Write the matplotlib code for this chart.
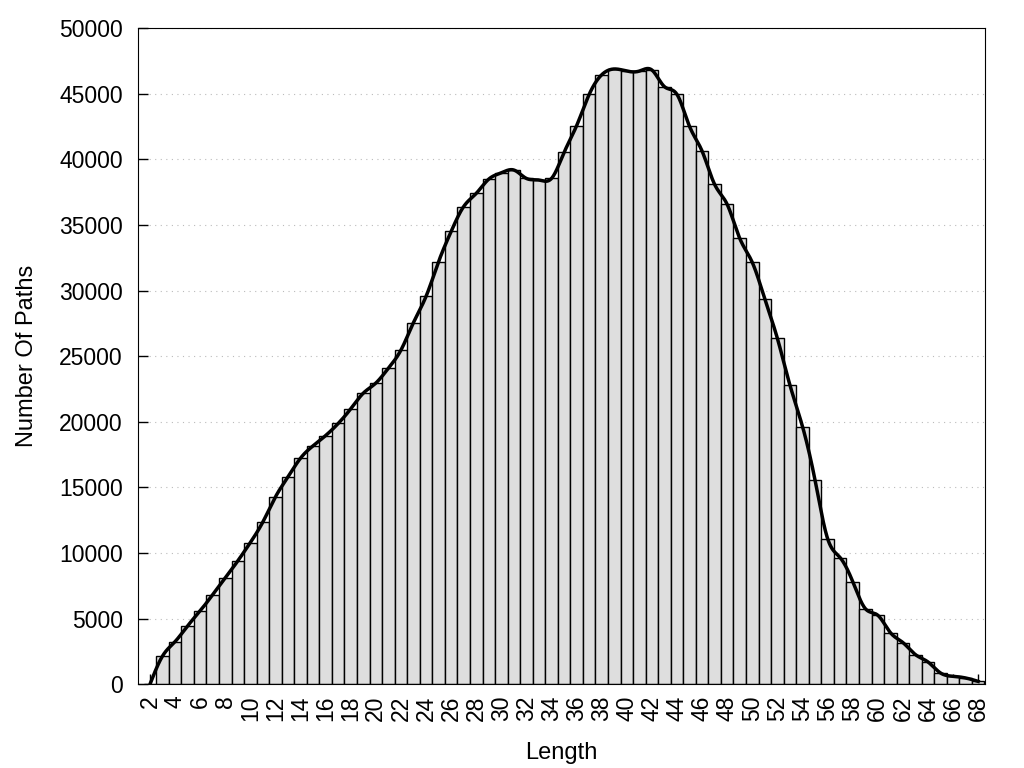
import numpy as np
import matplotlib
matplotlib.use("Agg")
import matplotlib.pyplot as plt

# path length vs. count
lengths = list(range(2, 69))
counts = [0, 2150, 3250, 4450, 5590, 6830, 8100, 9400, 10800, 12370,
          14280, 15800, 17230, 18170, 18950, 19870, 20990, 22180, 22950, 24080,
          25460, 27560, 29550, 32200, 34500, 36400, 37400, 38490, 38970, 39180,
          38540, 38420, 38540, 40520, 42560, 44940, 46440, 46880, 46720, 46720,
          46800, 45530, 44940, 42500, 40620, 38080, 36560, 33970, 32140, 29350,
          26350, 22790, 19640, 15550, 11100, 9650, 7830, 5770, 5260, 3940,
          3180, 2260, 1700, 860, 610, 480, 220]

xtick_vals = list(range(2, 69, 2))
ytick_vals = list(range(0, 50001, 5000))


def natural_spline(x, y, n=2000):
    # natural cubic spline, same idea as gnuplot "smooth csplines"
    x = np.asarray(x, float)
    y = np.asarray(y, float)
    h = np.diff(x)
    m = len(x)
    A = np.zeros((m, m))
    b = np.zeros(m)
    A[0, 0] = A[-1, -1] = 1
    for i in range(1, m - 1):
        A[i, i - 1] = h[i - 1]
        A[i, i] = 2 * (h[i - 1] + h[i])
        A[i, i + 1] = h[i]
        b[i] = 6 * ((y[i + 1] - y[i]) / h[i] - (y[i] - y[i - 1]) / h[i - 1])
    M = np.linalg.solve(A, b)
    xs = np.linspace(x[0], x[-1], n)
    idx = np.clip(np.searchsorted(x, xs) - 1, 0, m - 2)
    x0, x1 = x[idx], x[idx + 1]
    hh = x1 - x0
    t0, t1 = x1 - xs, xs - x0
    ys = (M[idx] * t0 ** 3 + M[idx + 1] * t1 ** 3) / (6 * hh) \
        + (y[idx] / hh - M[idx] * hh / 6) * t0 \
        + (y[idx + 1] / hh - M[idx + 1] * hh / 6) * t1
    return xs, ys


plt.rcParams['font.family'] = ['Liberation Sans', 'DejaVu Sans']

fig = plt.figure(figsize=(10.24, 7.68), dpi=100)
ax = fig.add_axes([0.1348, 0.109, 0.8272, 0.8545])

ax.bar(lengths, counts, width=1.0, color='#dedede', edgecolor='black', linewidth=1.0, zorder=2)
xs, ys = natural_spline(lengths, counts)
ax.plot(xs, ys, color='black', linewidth=2.5, zorder=3)

ax.set_xlim(1.05, 68.55)
ax.set_ylim(0, 50000)
ax.set_xticks(xtick_vals)
ax.set_xticklabels([str(v) for v in xtick_vals], rotation=90)
ax.set_yticks(ytick_vals)
ax.tick_params(direction='in', length=7, labelsize=16.5, width=1)
ax.tick_params(axis='y', pad=11)
ax.tick_params(axis='x', pad=8)
ax.grid(axis='y', linestyle=(0, (1, 4)), color='#bbbbbb', linewidth=0.8, zorder=0)
ax.set_axisbelow(True)

ax.set_xlabel('Length', fontsize=17, labelpad=15)
ax.set_ylabel('Number Of Paths', fontsize=17, labelpad=15)

fig.savefig('out.png', dpi=100)
